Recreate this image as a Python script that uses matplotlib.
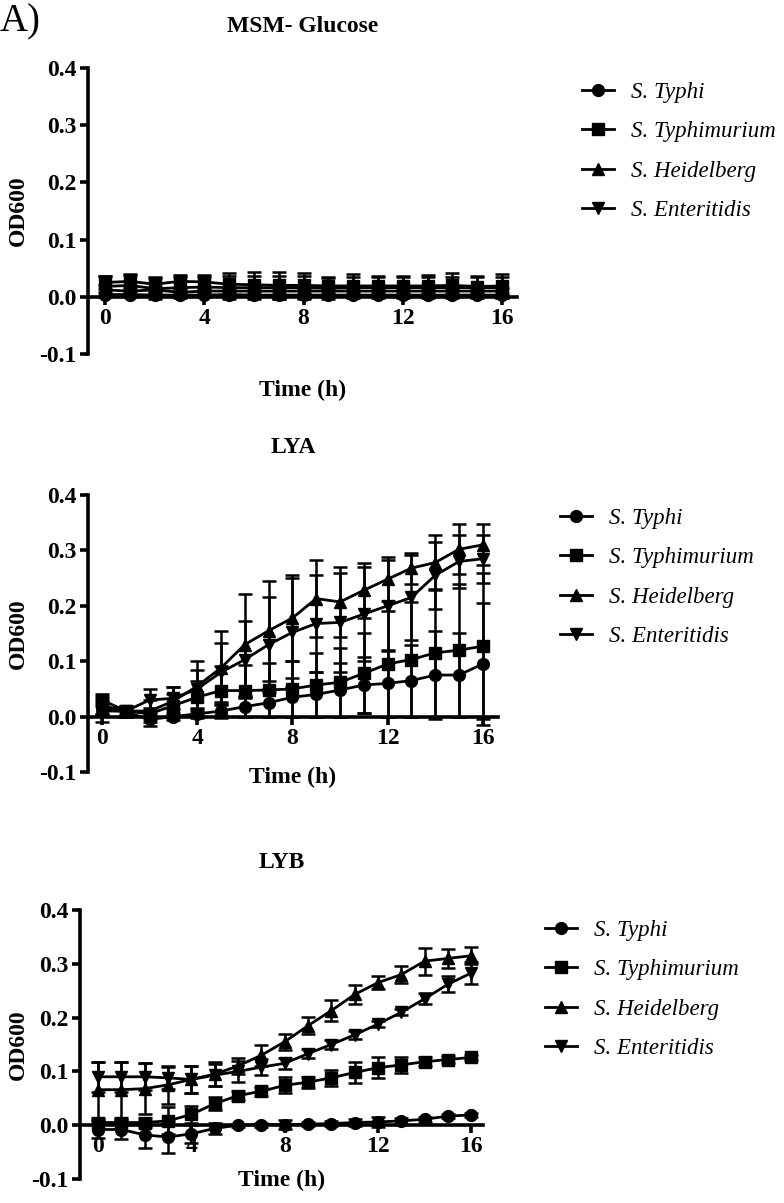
import numpy as np
import matplotlib
matplotlib.use("Agg")
import matplotlib.pyplot as plt
from matplotlib.lines import Line2D

plt.rcParams['font.family'] = ['Liberation Serif', 'DejaVu Serif']

hours = np.arange(0, 17)
strains = ["S. Typhi", "S. Typhimurium", "S. Heidelberg", "S. Enteritidis"]
markers = ["o", "s", "^", "v"]

# MSM- Glucose
msm_typhi = [0.004, 0.004, 0.003, 0.003, 0.003, 0.004, 0.003, 0.003, 0.003, 0.003, 0.003, 0.003, 0.003, 0.003, 0.003, 0.003, 0.003]
msm_typhi_sd = [0.005, 0.005, 0.004, 0.004, 0.004, 0.005, 0.004, 0.005, 0.004, 0.004, 0.004, 0.004, 0.004, 0.004, 0.004, 0.004, 0.004]
msm_typhim = [0.025, 0.027, 0.022, 0.027, 0.026, 0.022, 0.021, 0.02, 0.02, 0.019, 0.019, 0.019, 0.019, 0.019, 0.02, 0.018, 0.019]
msm_typhim_sd = [0.012, 0.012, 0.012, 0.011, 0.012, 0.02, 0.022, 0.024, 0.022, 0.016, 0.02, 0.018, 0.018, 0.019, 0.021, 0.019, 0.021]
msm_heid = [0.018, 0.02, 0.014, 0.016, 0.017, 0.016, 0.016, 0.016, 0.016, 0.015, 0.016, 0.016, 0.016, 0.016, 0.016, 0.016, 0.016]
msm_heid_sd = [0.018, 0.018, 0.018, 0.018, 0.018, 0.02, 0.02, 0.02, 0.02, 0.018, 0.018, 0.018, 0.018, 0.018, 0.018, 0.018, 0.018]
msm_ent = [0.012, 0.01, 0.012, 0.008, 0.01, 0.01, 0.01, 0.01, 0.01, 0.01, 0.01, 0.01, 0.01, 0.01, 0.01, 0.01, 0.01]
msm_ent_sd = [0.008, 0.008, 0.006, 0.006, 0.006, 0.006, 0.006, 0.006, 0.006, 0.006, 0.006, 0.006, 0.006, 0.006, 0.006, 0.006, 0.006]

# LYA
lya_typhi = [0.015, 0.008, -0.005, 0.0, 0.005, 0.01, 0.018, 0.025, 0.035, 0.04, 0.048, 0.057, 0.06, 0.065, 0.075, 0.075, 0.095]
lya_typhi_sd = [0.01, 0.006, 0.012, 0.006, 0.008, 0.012, 0.018, 0.025, 0.035, 0.04, 0.048, 0.05, 0.06, 0.065, 0.08, 0.076, 0.11]
lya_typhim = [0.03, 0.01, 0.005, 0.02, 0.035, 0.047, 0.047, 0.048, 0.05, 0.057, 0.062, 0.078, 0.095, 0.103, 0.115, 0.12, 0.127]
lya_typhim_sd = [0.01, 0.008, 0.01, 0.02, 0.03, 0.045, 0.047, 0.048, 0.05, 0.057, 0.062, 0.072, 0.095, 0.103, 0.115, 0.12, 0.132]
lya_heid = [0.02, 0.01, 0.01, 0.028, 0.055, 0.088, 0.13, 0.155, 0.178, 0.213, 0.207, 0.228, 0.248, 0.268, 0.278, 0.302, 0.31]
lya_heid_sd = [0.015, 0.01, 0.02, 0.025, 0.045, 0.067, 0.092, 0.09, 0.077, 0.07, 0.063, 0.05, 0.04, 0.028, 0.049, 0.045, 0.037]
lya_ent = [0.01, 0.01, 0.03, 0.033, 0.05, 0.08, 0.103, 0.13, 0.152, 0.168, 0.17, 0.185, 0.2, 0.215, 0.255, 0.28, 0.285]
lya_ent_sd = [0.02, 0.01, 0.02, 0.02, 0.035, 0.053, 0.069, 0.085, 0.098, 0.087, 0.09, 0.085, 0.082, 0.077, 0.06, 0.048, 0.043]

# LYB
lyb_typhi = [-0.008, -0.008, -0.018, -0.022, -0.016, -0.006, 0.0, 0.001, 0.001, 0.002, 0.003, 0.005, 0.006, 0.008, 0.011, 0.017, 0.019]
lyb_typhi_sd = [0.015, 0.018, 0.025, 0.03, 0.017, 0.01, 0.003, 0.004, 0.008, 0.004, 0.005, 0.006, 0.01, 0.005, 0.005, 0.004, 0.004]
lyb_typhim = [0.005, 0.005, 0.005, 0.008, 0.02, 0.04, 0.055, 0.063, 0.074, 0.08, 0.088, 0.098, 0.107, 0.112, 0.118, 0.122, 0.126]
lyb_typhim_sd = [0.005, 0.005, 0.008, 0.025, 0.015, 0.012, 0.008, 0.008, 0.015, 0.01, 0.015, 0.02, 0.02, 0.015, 0.008, 0.007, 0.005]
lyb_heid = [0.066, 0.066, 0.068, 0.075, 0.085, 0.095, 0.11, 0.13, 0.155, 0.185, 0.213, 0.243, 0.265, 0.28, 0.305, 0.31, 0.315]
lyb_heid_sd = [0.052, 0.052, 0.047, 0.035, 0.025, 0.022, 0.015, 0.02, 0.015, 0.016, 0.02, 0.018, 0.012, 0.015, 0.025, 0.018, 0.016]
lyb_ent = [0.09, 0.09, 0.09, 0.088, 0.085, 0.093, 0.1, 0.108, 0.115, 0.133, 0.15, 0.168, 0.188, 0.21, 0.235, 0.262, 0.283]
lyb_ent_sd = [0.028, 0.028, 0.025, 0.02, 0.025, 0.02, 0.02, 0.015, 0.01, 0.008, 0.008, 0.008, 0.006, 0.006, 0.01, 0.015, 0.02]

panels = [
    ("MSM- Glucose", [msm_typhi, msm_typhim, msm_heid, msm_ent],
     [msm_typhi_sd, msm_typhim_sd, msm_heid_sd, msm_ent_sd]),
    ("LYA", [lya_typhi, lya_typhim, lya_heid, lya_ent],
     [lya_typhi_sd, lya_typhim_sd, lya_heid_sd, lya_ent_sd]),
    ("LYB", [lyb_typhi, lyb_typhim, lyb_heid, lyb_ent],
     [lyb_typhi_sd, lyb_typhim_sd, lyb_heid_sd, lyb_ent_sd]),
]

W, H = 784, 1203
fig = plt.figure(figsize=(W / 100, H / 100), dpi=100)

# pixel boxes: left, right, top(0.4), bottom(-0.1), xmin, xmax
boxes = [(88, 517, 68, 354, -0.69, 16.6),
         (88, 498, 495, 772, -0.59, 16.64),
         (80, 483, 910, 1179, -0.77, 16.5)]
title_y = [27, 447, 862]
xlabel_y = [390, 777, 1180]
legend_xy = [(582, 94), (560, 520), (545, 932)]

fs = 17
for (title, means, sds), box, ty, xly, lxy in zip(panels, boxes, title_y, xlabel_y, legend_xy):
    l, r, t, b, x0, x1 = box
    ax = fig.add_axes([l / W, 1 - b / H, (r - l) / W, (b - t) / H])
    for m, s, mk, name in zip(means, sds, markers, strains):
        ax.errorbar(hours, m, yerr=s, color="black", marker=mk, markersize=8.5,
                    lw=2, elinewidth=1.8, capsize=5, capthick=1.8,
                    clip_on=False, label=name)
    ax.set_xlim(x0, x1)
    ax.set_ylim(-0.1, 0.4)
    ax.set_xticks([0, 4, 8, 12, 16])
    ax.set_yticks([-0.1, 0.0, 0.1, 0.2, 0.3, 0.4])
    ax.set_yticklabels(["-0.1", "0.0", "0.1", "0.2", "0.3", "0.4"])
    ax.spines["top"].set_visible(False)
    ax.spines["right"].set_visible(False)
    ax.spines["bottom"].set_position(("data", 0))
    for sp in ["left", "bottom"]:
        ax.spines[sp].set_linewidth(2.6)
        ax.spines[sp].set_zorder(5)
    ax.tick_params(width=2.6, length=6, labelsize=fs, pad=2)
    for lab in ax.get_xticklabels() + ax.get_yticklabels():
        lab.set_fontweight("bold")
    fig.text(18 / W, 1 - (t + b) / 2 / H, "OD600", fontsize=fs, fontweight="bold",
             rotation=90, ha="center", va="center")
    fig.text((l + r) / 2 / W, 1 - xly / H, "Time (h)", fontsize=fs,
             fontweight="bold", ha="center", va="center")
    fig.text((l + r) / 2 / W, 1 - ty / H, title, fontsize=fs,
             fontweight="bold", ha="center", va="center")
    handles = [Line2D([], [], color="black", marker=mk, markersize=8.5, lw=2)
               for mk in markers]
    lx, ly = lxy
    ax.legend(handles, strains, loc="upper left",
              bbox_to_anchor=(lx / W, 1 - (ly - 12) / H),
              bbox_transform=fig.transFigure, frameon=False,
              prop={"family": "Liberation Serif", "style": "italic", "size": 16.5},
              handlelength=1.4, handletextpad=0.75, labelspacing=0.8,
              borderpad=0, borderaxespad=0)

fig.text(0.0, 1 - 22 / H, "A)", fontsize=28, ha="left", va="center")

fig.savefig("out.png", dpi=100)
